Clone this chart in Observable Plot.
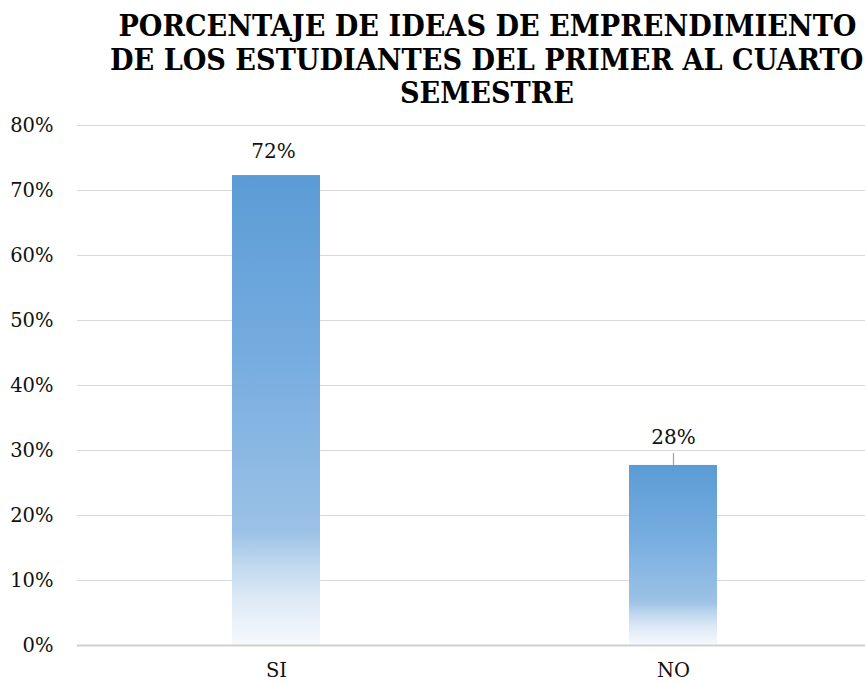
<!DOCTYPE html>
<html>
<head>
<meta charset="utf-8">
<script src="https://cdn.jsdelivr.net/npm/d3@7"></script>
<script src="https://cdn.jsdelivr.net/npm/@observablehq/plot@0.6"></script>
<style>
  html, body { margin: 0; padding: 0; background: #fff; }
  #wrap { width: 865px; height: 683px; position: relative; overflow: hidden; }
  #title {
    box-sizing: border-box; height: 110px; width: 865px;
    padding-top: 10px; padding-left: 109px; padding-right: 0;
    font-family: "DejaVu Serif", serif;
    font-weight: bold; font-size: 29px; line-height: 33.5px;
    color: #000; white-space: nowrap;
  }
  #title .line { width: 756px; height: 33.5px; display: flex; justify-content: center; }
  #title .line span { display: inline-block; flex: none; transform-origin: 50% 50%; }
  svg { display: block; }
</style>
</head>
<body>
<div id="wrap">
  <div id="title"></div>
  <div id="chart"></div>
</div>
<script>
// ---- data ----
const titleLines = ["PORCENTAJE DE IDEAS DE EMPRENDIMIENTO", "DE LOS ESTUDIANTES DEL PRIMER AL CUARTO", "SEMESTRE"];
const categories = ["SI", "NO"];
const values = [72.3, 27.7];          // percent
const valueLabels = ["72%", "28%"];
const yTicks = [0, 10, 20, 30, 40, 50, 60, 70, 80];

const data = categories.map((c, i) => ({cat: c, value: values[i], label: valueLabels[i]}));

// ---- title (serif, narrowed to the reference's proportions) ----
const titleEl = document.getElementById("title");
const spans = titleLines.map(t => {
  const line = document.createElement("div");
  line.className = "line";
  const s = document.createElement("span");
  s.textContent = t;
  line.appendChild(s);
  titleEl.appendChild(line);
  return s;
});
const w0 = spans[0].getBoundingClientRect().width;
const sx = 738 / w0;
spans.forEach(s => s.style.transform = `scaleX(${sx})`);

const font = "'DejaVu Serif', serif";

const plot = Plot.plot({
  width: 865,
  height: 573,
  marginTop: 15,
  marginBottom: 38,
  marginLeft: 78,
  marginRight: 0,
  style: {fontFamily: font, fontSize: "19.5px", color: "#111", background: "#fff"},
  x: {domain: categories, range: [77, 872], paddingInner: 0.778, paddingOuter: 0.389, label: null, tickSize: 0, tickPadding: 18},
  y: {domain: [0, 80], ticks: yTicks, tickFormat: d => d + "%", label: null, tickSize: 0, tickPadding: 25},
  marks: [
    Plot.ruleY(yTicks.filter(t => t > 0), {stroke: "#d9d9d9", strokeWidth: 1.2, insetLeft: -1}),
    Plot.barY(data, {x: "cat", y: "value", fill: "url(#barGrad)"}),
    Plot.ruleY([0], {stroke: "#d0d0d0", strokeWidth: 2, insetLeft: -1}),
    Plot.ruleX(data.filter(d => d.cat === "NO"), {x: "cat", y1: "value", y2: "value", insetTop: -12, stroke: "#a6a6a6", strokeWidth: 1.3}),
    Plot.text(data.filter(d => d.cat === "SI"), {x: "cat", y: "value", text: "label", dy: -23.5, dx: -3, fontSize: 20, fill: "#111"}),
    Plot.text(data.filter(d => d.cat === "NO"), {x: "cat", y: "value", text: "label", dy: -27.5, fontSize: 20, fill: "#111"})
  ]
});

// gradient definition for bars
const svg = d3.select(plot);
const defs = svg.insert("defs", ":first-child");
const g = defs.append("linearGradient").attr("id", "barGrad")
  .attr("x1", 0).attr("y1", 0).attr("x2", 0).attr("y2", 1);
[[0, "#5b9bd5"], [0.4, "#77ade0"], [0.76, "#9cc2e6"], [0.83, "#c0d8ef"], [0.9, "#dde9f6"], [1, "#f6f9fd"]]
  .forEach(([o, c]) => g.append("stop").attr("offset", o).attr("stop-color", c));

document.getElementById("chart").appendChild(plot);
</script>
</body>
</html>
